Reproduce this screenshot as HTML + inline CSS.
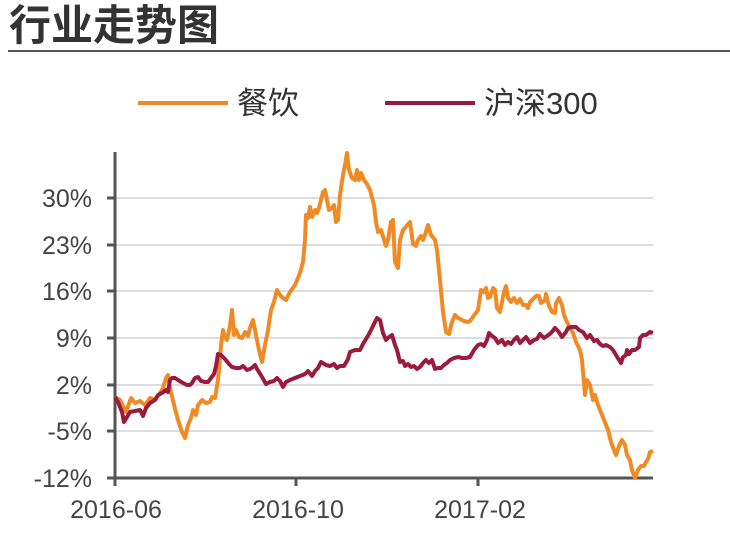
<!DOCTYPE html>
<html><head><meta charset="utf-8"><style>
body{margin:0;background:#fff;width:730px;height:550px;overflow:hidden;font-family:"Liberation Sans","Noto Sans CJK SC",sans-serif}
</style></head><body>
<svg width="730" height="550" xmlns="http://www.w3.org/2000/svg" font-family="Liberation Sans, Noto Sans CJK SC, sans-serif">
<text x="9" y="40" font-size="42" font-weight="bold" fill="#333">行业走势图</text>
<line x1="8" y1="51" x2="730" y2="51" stroke="#555" stroke-width="2"/>
<line x1="138" y1="103" x2="228" y2="103" stroke="#F08A24" stroke-width="4"/>
<text x="237" y="114" font-size="31" fill="#333">餐饮</text>
<line x1="385" y1="103" x2="475" y2="103" stroke="#9B1B3F" stroke-width="4"/>
<text x="484" y="114" font-size="31" fill="#333">沪深300</text>
<g stroke="#ddd" stroke-width="2">
<line x1="115" y1="198" x2="653" y2="198"/><line x1="115" y1="245" x2="653" y2="245"/>
<line x1="115" y1="291" x2="653" y2="291"/><line x1="115" y1="338" x2="653" y2="338"/>
<line x1="115" y1="385" x2="653" y2="385"/><line x1="115" y1="431" x2="653" y2="431"/>
</g>
<g stroke="#555" stroke-width="3">
<line x1="115" y1="152" x2="115" y2="479"/><line x1="114" y1="478" x2="653" y2="478"/>
<line x1="107" y1="198" x2="115" y2="198"/><line x1="107" y1="245" x2="115" y2="245"/>
<line x1="107" y1="291" x2="115" y2="291"/><line x1="107" y1="338" x2="115" y2="338"/>
<line x1="107" y1="385" x2="115" y2="385"/><line x1="107" y1="431" x2="115" y2="431"/>
<line x1="107" y1="478" x2="115" y2="478"/>
<line x1="115" y1="478" x2="115" y2="486"/><line x1="296" y1="478" x2="296" y2="486"/><line x1="478" y1="478" x2="478" y2="486"/>
</g>
<g font-size="25" fill="#444" text-anchor="end">
<text x="92" y="207">30%</text><text x="92" y="254">23%</text><text x="92" y="300">16%</text>
<text x="92" y="347">9%</text><text x="92" y="394">2%</text><text x="92" y="440">-5%</text><text x="92" y="487">-12%</text>
</g>
<g font-size="25" fill="#444" text-anchor="middle">
<text x="116" y="518">2016-06</text><text x="298" y="518">2016-10</text><text x="480" y="518">2017-02</text>
</g>
<polyline fill="none" stroke="#F08A24" stroke-width="4" stroke-linejoin="round" points="115,397 120,400 126,412 131,398 135,403 140,401 145,405 150,398 155,400 160,393 163,388 166,378 168,375 170,388 174,405 178,420 182,432 185,438 188,425 191,418 193,410 196,415 198,405 202,400 206,403 210,402 212,397 215,398 218,380 221,346 223,330 225,338 227,340 230,326 232,310 234,335 236,330 239,337 242,338 245,332 248,336 250,328 253,320 256,335 259,350 262,362 265,345 268,330 271,310 274,302 277,290 280,295 283,298 286,300 290,292 295,285 300,273 303,262 305,240 306,215 308,218 310,207 312,217 315,210 317,213 319,208 321,200 323,192 325,190 327,200 329,210 332,208 334,205 336,222 338,220 340,195 343,175 345,165 347,153 349,170 352,178 355,180 357,170 359,180 361,173 364,180 367,184 370,190 374,205 376,222 378,232 381,230 386,246 388,240 391,222 393,220 395,262 398,268 400,240 403,230 410,222 413,244 416,246 418,240 421,236 423,240 425,235 428,225 431,235 435,240 437,250 440,280 443,312 446,332 449,334 452,322 455,315 458,318 464,321 468,322 470,321 478,310 481,290 484,292 486,288 488,298 490,297 493,288 495,290 497,308 500,312 502,302 504,292 506,286 508,298 511,302 514,298 517,303 520,299 523,305 526,305 528,308 530,302 534,298 536,296 539,296 541,303 545,300 546,294 549,306 552,312 555,313 556,303 559,298 562,305 564,315 567,322 570,328 573,333 576,342 580,350 582,360 585,395 587,380 590,385 593,400 595,395 598,405 600,410 604,420 608,430 611,442 614,450 616,455 619,446 622,440 625,445 627,455 630,460 632,470 635,478 638,470 641,466 644,466 646,462 648,459 650,452 653,451"/>
<polyline fill="none" stroke="#9B1B3F" stroke-width="4" stroke-linejoin="round" points="115,397 118,402 122,412 124,422 127,417 130,412 135,411 140,410 143,416 146,408 150,403 155,400 158,395 162,393 166,390 168,392 170,380 172,378 175,378 178,380 183,383 187,385 190,385 192,383 195,378 198,377 201,381 205,382 208,382 211,378 214,374 216,366 218,354 221,355 225,359 229,364 232,367 236,368 240,368 243,366 247,370 250,369 253,367 255,365 257,369 259,372 262,377 266,384 270,382 274,381 277,378 280,381 283,387 286,382 290,380 295,378 300,376 305,374 308,371 312,376 315,371 318,368 321,362 326,365 330,366 334,364 337,368 340,366 344,366 348,359 350,352 355,350 360,350 363,344 366,339 369,334 372,328 375,322 377,318 380,320 383,333 386,340 389,337 392,335 395,345 397,350 400,362 403,361 405,366 408,364 411,367 414,366 417,369 420,367 423,363 426,360 429,363 432,360 435,369 438,368 441,368 444,365 447,363 450,360 454,358 458,357 462,358 466,358 470,357 474,350 478,345 481,344 484,346 487,340 489,333 492,336 495,338 498,343 502,340 505,345 508,342 511,344 514,340 517,337 520,343 523,340 526,337 530,343 534,340 537,339 540,334 544,338 547,336 551,333 555,328 558,331 562,337 566,332 568,328 572,327 576,327 579,330 583,332 587,338 590,335 594,341 597,340 600,344 603,346 606,345 610,347 613,350 616,355 619,360 621,363 623,357 626,355 627,350 629,354 632,350 635,350 639,347 640,338 643,335 646,335 650,332 653,333"/>
</svg>
</body></html>
